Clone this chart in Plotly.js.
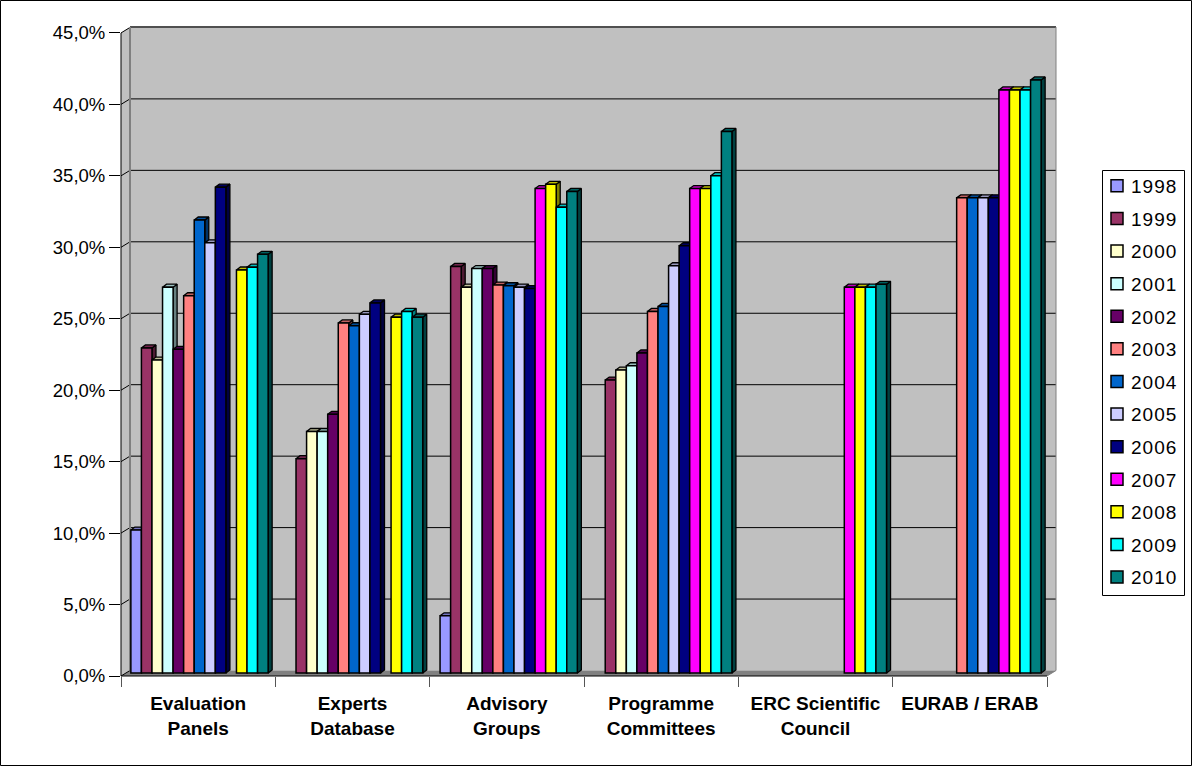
<!DOCTYPE html>
<html><head><meta charset="utf-8">
<script src="https://cdn.plot.ly/plotly-3.0.1.min.js"></script>
<style>html,body{margin:0;padding:0;background:#fff}#c{width:1192px;height:766px}.legendtext{letter-spacing:1px}</style>
</head><body><div id="c"></div>
<script>
const categories = ['Evaluation<br>Panels','Experts<br>Database','Advisory<br>Groups','Programme<br>Committees','ERC Scientific<br>Council','EURAB / ERAB'];
const years = ['1998','1999','2000','2001','2002','2003','2004','2005','2006','2007','2008','2009','2010'];
const colors = ['#9999FF','#993366','#FFFFCC','#CCFFFF','#660066','#FF8080','#0066CC','#CCCCFF','#000080','#FF00FF','#FFFF00','#00FFFF','#008080'];
const v1998 = [10.0, null, 4.0, null, null, null];
const v1999 = [22.75, 15.0, 28.45, 20.5, null, null];
const v2000 = [21.9, 16.9, 27.0, 21.2, null, null];
const v2001 = [27.0, 16.9, 28.3, 21.5, null, null];
const v2002 = [22.65, 18.1, 28.3, 22.4, null, null];
const v2003 = [26.4, 24.5, 27.15, 25.3, null, 33.25];
const v2004 = [31.7, 24.3, 27.1, 25.65, null, 33.25];
const v2005 = [30.1, 25.1, 27.0, 28.5, null, 33.25];
const v2006 = [34.0, 25.9, 26.9, 29.9, null, 33.25];
const v2007 = [null, null, 33.9, 33.9, 27.0, 40.8];
const v2008 = [28.2, 24.9, 34.2, 33.9, 27.0, 40.8];
const v2009 = [28.4, 25.3, 32.6, 34.8, 27.0, 40.8];
const v2010 = [29.3, 24.9, 33.7, 37.9, 27.2, 41.5];
const series = [v1998,v1999,v2000,v2001,v2002,v2003,v2004,v2005,v2006,v2007,v2008,v2009,v2010];
const yTicks = [0,5,10,15,20,25,30,35,40,45];
const yLabels = ['0,0%','5,0%','10,0%','15,0%','20,0%','25,0%','30,0%','35,0%','40,0%','45,0%'];

// geometry of the pseudo-3D box, in page pixels
const W=1192,H=766, L=121,R=1056,T=27,B=676, FR=1047, BK=130, BB=670.5, PX=14.29;
const catW=(FR-L)/6, catB=154.6, gap=0.112, barW=(1-gap)/13, dxPx=4, dyPx=3, firstCentre=199.5, barBase=673;
const px=x=>x/W, py=y=>1-y/H;
const dx=dxPx/catB, dy=dyPx/PX;
const xr=[-0.5,-0.5+(R-L)/catW];
const xrB=[-(firstCentre-L)/catB,(R-firstCentre)/catB];
const shade=(c,f)=>{const n=parseInt(c.slice(1),16);return 'rgb('+[(n>>16)&255,(n>>8)&255,n&255].map(a=>Math.round(a*f)).join(',')+')';};

const traces=[{x:categories,y:categories.map(()=>null),type:'scatter',mode:'markers',xaxis:'x',yaxis:'y',showlegend:false,hoverinfo:'skip'}];
series.forEach((vals,k)=>{
  const sx=[],sy=[],tx=[],ty=[];
  vals.forEach((v,c)=>{
    if(v===null) return;
    const x0=c+(k-6.5)*barW, x1=x0+barW;
    tx.push(x0,x1,x1+dx,x0+dx,x0,null); ty.push(v,v,v+dy,v+dy,v,null);
    sx.push(x1,x1+dx,x1+dx,x1,x1,null); sy.push(0,dy,v+dy,v,0,null);
  });
  [[sx,sy,0.5],[tx,ty,0.75]].forEach(([a,b,f])=>traces.push({x:a,y:b,type:'scatter',mode:'lines',fill:'toself',fillcolor:shade(colors[k],f),line:{color:'#000',width:1.3},xaxis:'x2',yaxis:'y2',showlegend:false,hoverinfo:'skip'}));
});
series.forEach((vals,k)=>traces.push({x:categories,y:vals,name:years[k],type:'bar',xaxis:'x3',yaxis:'y3',legendgroup:years[k],marker:{color:colors[k],line:{color:'#000',width:1.5}}}));

const line=(x0,y0,x1,y1,color,width)=>({type:'line',xref:'paper',yref:'paper',x0:px(x0),y0:py(y0),x1:px(x1),y1:py(y1),line:{color:color,width:width},layer:'below'});
const poly=(pts,fill)=>({type:'path',xref:'paper',yref:'paper',path:'M'+pts.map(p=>px(p[0])+','+py(p[1])).join('L')+'Z',fillcolor:fill,line:{width:0},layer:'below'});
const shapes=[
  poly([[BK,T],[R,T],[R,BB],[BK,BB]],'#C0C0C0'),
  poly([[L,B-643],[BK,T],[BK,BB],[L,B]],'#C0C0C0'),
  poly([[L,B],[BK,BB],[R,BB],[FR,B]],'#808080')
];
yTicks.forEach(t=>{
  const yb=BB-t*PX, yf=B-t*PX;
  if(t>0 && t<45) shapes.push(line(BK,yb,R,yb,'#000',1));
  shapes.push(line(L,yf,BK,yb,'#000',1));
});
shapes.push(line(BK,T,R,T,'#505050',2), line(BK,T,BK,BB,'#808080',2), line(R,T,R,BB,'#808080',1), line(FR,B,R,BB,'#808080',1));
shapes.push(line(L,B-643,L,B,'#000',1), line(L,B,FR,B,'#000',1));
shapes.push({type:'rect',xref:'paper',yref:'paper',x0:px(0.5),y0:py(0.5),x1:px(W-0.5),y1:py(H-0.5),line:{color:'#000',width:1},fillcolor:'rgba(0,0,0,0)',layer:'above'});
shapes.push({type:'rect',xref:'paper',yref:'paper',x0:px(1102.5),y0:py(170.5),x1:px(1184.5),y1:py(595.5),line:{color:'#000',width:1},fillcolor:'#fff',layer:'below'});

const font='"Liberation Sans",Arial,sans-serif';
const hidden={visible:false,fixedrange:true};
const layout={
  width:W,height:H,margin:{l:0,r:0,t:0,b:0},paper_bgcolor:'#fff',plot_bgcolor:'rgba(0,0,0,0)',
  barmode:'group',bargap:gap,bargroupgap:0,showlegend:true,shapes:shapes,
  font:{family:font,color:'#000'},
  xaxis:{domain:[px(L),px(R)],range:xr,type:'category',categoryorder:'array',categoryarray:categories,tickson:'boundaries',ticks:'outside',ticklen:10,tickwidth:1,tickcolor:'#555',showgrid:false,showline:false,zeroline:false,anchor:'y',tickangle:0,ticklabelstandoff:14,tickfont:{family:font,size:19,color:'#000',weight:'bold'}},
  yaxis:{domain:[py(B),py(T)],range:[0,(B-T)/PX],tickvals:yTicks,ticktext:yLabels,ticks:'outside',ticklen:11,tickwidth:1,tickcolor:'#000',showgrid:false,showline:false,zeroline:false,anchor:'x',tickfont:{family:font,size:18.5,color:'#000'}},
  xaxis2:Object.assign({overlaying:'x',range:xrB,anchor:'y2',type:'linear'},hidden),
  yaxis2:Object.assign({overlaying:'y',range:[(barBase-B)/PX,(barBase-T)/PX],anchor:'x2'},hidden),
  xaxis3:Object.assign({overlaying:'x',range:xrB,anchor:'y3',type:'category',categoryorder:'array',categoryarray:categories},hidden),
  yaxis3:Object.assign({overlaying:'y',range:[(barBase-B)/PX,(barBase-T)/PX],anchor:'x3'},hidden),
  legend:{x:px(1091),y:py(167),xanchor:'left',yanchor:'top',bgcolor:'rgba(0,0,0,0)',borderwidth:0,font:{family:font,size:19,color:'#000'},traceorder:'grouped',tracegroupgap:4.9,itemclick:false,itemdoubleclick:false}
};
Plotly.newPlot('c',traces,layout,{displayModeBar:false,staticPlot:true}).then(()=>{
  document.querySelectorAll('.legendpoints').forEach(g=>g.setAttribute('transform','translate(6,0)'));
});
</script></body></html>
